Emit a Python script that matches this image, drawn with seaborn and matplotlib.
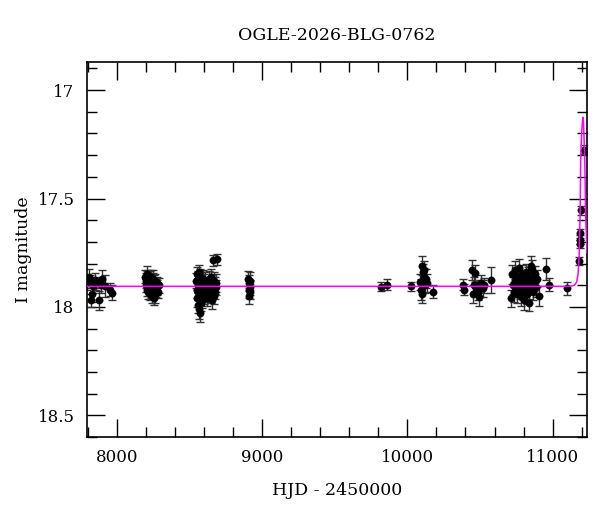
import pandas as pd
import matplotlib
matplotlib.use("Agg")
import matplotlib.pyplot as plt
import seaborn as sns
from matplotlib.ticker import MultipleLocator

sns.set_style("ticks")
plt.rcParams['font.family'] = ['DejaVu Serif']

# photometry (HJD - 2450000, I mag, error)
hjd = [
    # 2017 season
    7798, 7807, 7814, 7821, 7826, 7837, 7849, 7860, 7876, 7890, 7897, 7922, 7951, 7966,
    # 2018
    8195, 8198, 8202, 8205, 8208, 8210, 8213, 8215, 8218, 8220, 8222, 8225, 8228, 8230,
    8233, 8236, 8238, 8240, 8243, 8246, 8248, 8250, 8253, 8256, 8258, 8261, 8264, 8266,
    8270, 8273, 8276, 8280, 8284, 8288,
    # 2019
    8548, 8550, 8552, 8554, 8556, 8558, 8560, 8562, 8564, 8566, 8568, 8570, 8572, 8574,
    8576, 8578, 8580, 8582, 8584, 8586, 8588, 8590, 8592, 8595, 8598, 8601, 8604, 8607,
    8610, 8614, 8618,
    8638, 8642, 8646, 8650, 8654, 8658, 8662, 8666, 8670, 8674, 8678, 8682, 8686,
    8665, 8690,
    # 2020
    8905, 8908, 8910, 8912, 8915, 8918, 8920,
    # 2022
    9821, 9862, 10027,
    10085, 10092, 10098, 10104, 10108, 10112, 10116, 10120, 10126, 10132, 10173,
    # 2023
    10384, 10390,
    10445, 10452, 10460, 10468, 10475, 10485, 10492, 10500, 10510, 10520, 10528, 10574,
    # 2024
    10716, 10722, 10728, 10733, 10738, 10743, 10748, 10753, 10758, 10762, 10767, 10772,
    10776, 10781, 10786, 10790, 10795, 10800, 10805, 10810, 10815, 10820, 10825, 10830,
    10835, 10840, 10845, 10850, 10855, 10860, 10865, 10870, 10878, 10885, 10895, 10905,
    10957, 10973,
    # 2025-26
    11102, 11180, 11187, 11189, 11191, 11193, 11216,
]
mag = [
    17.89, 17.86, 17.885, 17.97, 17.94, 17.905, 17.877, 17.89, 17.97, 17.90, 17.87, 17.905, 17.92, 17.935,
    17.86, 17.88, 17.90, 17.85, 17.92, 17.87, 17.89, 17.93, 17.86, 17.91, 17.88, 17.90, 17.94, 17.87,
    17.89, 17.92, 17.86, 17.91, 17.95, 17.88, 17.90, 17.87, 17.93, 17.89, 17.96, 17.91, 17.88, 17.94,
    17.90, 17.92, 17.89, 17.91, 17.93, 17.90,
    17.88, 17.92, 17.85, 17.96, 17.90, 17.99, 17.87, 17.93, 17.84, 18.01, 17.91, 18.03, 17.89, 17.95,
    17.86, 17.98, 17.92, 17.88, 17.94, 17.90, 17.97, 17.87, 17.93, 17.91, 17.95, 17.89, 17.92, 17.88,
    17.94, 17.90, 17.96,
    17.87, 17.91, 17.86, 17.94, 17.89, 17.97, 17.92, 17.88, 17.95, 17.90, 17.93, 17.89, 17.91,
    17.785, 17.78,
    17.87, 17.92, 17.89, 17.95, 17.88, 17.91, 17.93,
    17.907, 17.897, 17.905,
    17.885, 17.92, 17.94, 17.81, 17.84, 17.86, 17.83, 17.90, 17.87, 17.89, 17.93,
    17.897, 17.92,
    17.83, 17.94, 17.90, 17.845, 17.915, 17.93, 17.955, 17.915, 17.89, 17.915, 17.90, 17.877,
    17.96, 17.85, 17.90, 17.93, 17.83, 17.88, 17.91, 17.86, 17.94, 17.89, 17.82, 17.92,
    17.87, 17.95, 17.90, 17.85, 17.93, 17.97, 17.88, 17.91, 17.84, 17.94, 17.89, 17.86,
    17.98, 17.92, 17.87, 17.81, 17.90, 17.83, 17.93, 17.88, 17.85, 17.91, 17.87, 17.95,
    17.826, 17.897,
    17.915, 17.788, 17.71, 17.69, 17.66, 17.555, 17.274,
]
err = [
    0.03, 0.035, 0.03, 0.03, 0.035, 0.03, 0.035, 0.03, 0.045, 0.035, 0.04, 0.05, 0.03, 0.035,
    0.03, 0.035, 0.03, 0.04, 0.03, 0.035, 0.03, 0.035, 0.03, 0.04, 0.03, 0.035, 0.03, 0.035,
    0.03, 0.04, 0.03, 0.035, 0.03, 0.035, 0.03, 0.04, 0.03, 0.035, 0.03, 0.035, 0.03, 0.04,
    0.03, 0.035, 0.03, 0.035, 0.03, 0.035,
    0.035, 0.04, 0.035, 0.04, 0.035, 0.04, 0.035, 0.04, 0.035, 0.045, 0.035, 0.04, 0.035, 0.04,
    0.035, 0.04, 0.035, 0.04, 0.035, 0.04, 0.035, 0.04, 0.035, 0.04, 0.035, 0.04, 0.035, 0.04,
    0.035, 0.04, 0.035,
    0.035, 0.04, 0.035, 0.04, 0.035, 0.04, 0.035, 0.04, 0.035, 0.04, 0.035, 0.04, 0.035,
    0.025, 0.025,
    0.035, 0.04, 0.035, 0.035, 0.04, 0.035, 0.035,
    0.02, 0.025, 0.02,
    0.035, 0.05, 0.04, 0.045, 0.04, 0.04, 0.04, 0.035, 0.045, 0.04, 0.03,
    0.025, 0.025,
    0.045, 0.04, 0.04, 0.04, 0.035, 0.04, 0.04, 0.04, 0.035, 0.04, 0.035, 0.06,
    0.04, 0.045, 0.04, 0.045, 0.04, 0.045, 0.04, 0.045, 0.04, 0.045, 0.04, 0.045,
    0.04, 0.045, 0.04, 0.045, 0.04, 0.045, 0.04, 0.045, 0.04, 0.045, 0.04, 0.045,
    0.04, 0.045, 0.04, 0.045, 0.04, 0.045, 0.04, 0.045, 0.04, 0.045, 0.04, 0.045,
    0.05, 0.03,
    0.03, 0.02, 0.02, 0.02, 0.02, 0.02, 0.02,
]

# microlensing model curve
model_hjd = [7795, 11120, 11150, 11165, 11175, 11183, 11189, 11193, 11200, 11206,
             11209, 11213, 11217, 11221, 11227, 11236]
model_mag = [17.905, 17.905, 17.90, 17.885, 17.85, 17.75, 17.57, 17.32, 17.19, 17.14,
             17.125, 17.16, 17.24, 17.32, 17.57, 17.75]

df = pd.DataFrame({'hjd': hjd, 'mag': mag, 'err': err})
model = pd.DataFrame({'hjd': model_hjd, 'mag': model_mag})

fig = plt.figure(figsize=(6, 5.12), dpi=100)
ax = fig.add_axes([0.145, 0.1465, 0.833, 0.7325])

ax.errorbar(df['hjd'], df['mag'], yerr=df['err'], fmt='none', ecolor='#333333',
            elinewidth=1.0, capsize=3, capthick=1.0, zorder=2)
sns.scatterplot(data=df, x='hjd', y='mag', color='black', s=28, edgecolor='black',
                linewidth=0.3, ax=ax, zorder=3)
sns.lineplot(data=model, x='hjd', y='mag', color='magenta', linewidth=1.1,
             sort=False, estimator=None, ax=ax, zorder=4)

ax.set_xlim(7795, 11235)
ax.set_ylim(18.60, 16.87)

ax.xaxis.set_major_locator(MultipleLocator(1000))
ax.xaxis.set_minor_locator(MultipleLocator(200))
ax.yaxis.set_minor_locator(MultipleLocator(0.1))
ax.set_yticks([17, 17.5, 18, 18.5])
ax.set_yticklabels(['17', '17.5', '18', '18.5'])

ax.tick_params(which='both', direction='in', top=True, right=True, labelsize=12,
               color='black', labelcolor='black')
ax.tick_params(which='major', length=13, width=1.0, pad=9)
ax.tick_params(which='minor', length=7, width=1.0)
for sp in ax.spines.values():
    sp.set_linewidth(1.2)
    sp.set_color('black')

ax.set_xlabel('HJD - 2450000', fontsize=12.5, labelpad=11, color='black')
ax.set_ylabel('I magnitude', fontsize=12.5, labelpad=4, color='black')
ax.set_title('OGLE-2026-BLG-0762', fontsize=12.5, pad=16, color='black')

fig.savefig('out.png', dpi=100)
